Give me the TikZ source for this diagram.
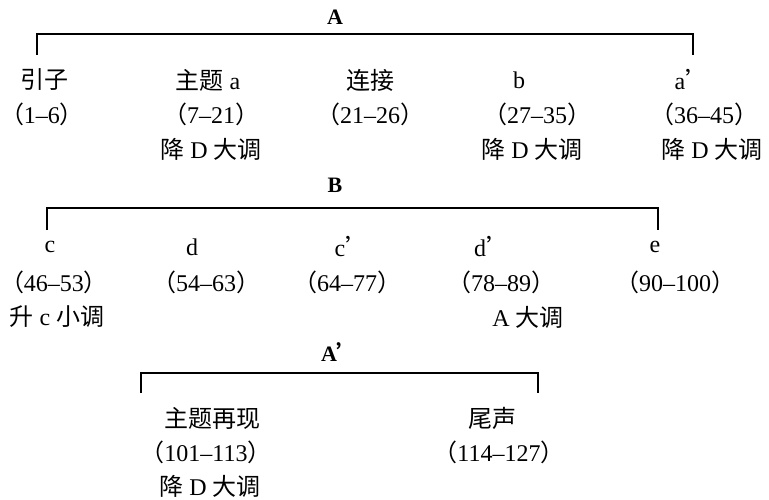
\documentclass[tikz,border=0pt]{standalone}
\usepackage{fontspec}
\setmainfont{Liberation Serif}
\newfontfamily\cjk{Noto Sans CJK SC}
\newcommand\rng[1]{{\cjk （}#1{\cjk ）}}
\begin{document}
\begin{tikzpicture}[x=1pt,y=-1pt,
  lbl/.style={inner sep=0pt, anchor=center, font=\fontsize{24}{28}\selectfont},
  ttl/.style={inner sep=0pt, anchor=center, font=\fontsize{22}{26}\selectfont\bfseries},
  bracket/.style={line width=1.8pt}]
\useasboundingbox (0,0) rectangle (769,500);
% ---- A section
\node[ttl] (tA) at (335,17) {A};
\coordinate (a1) at (37,55); \coordinate (a2) at (37,34);
\coordinate (a3) at (693,34); \coordinate (a4) at (693,55);
\draw[bracket] (a1) -- (a2) -- (a3) -- (a4);
\node[lbl] (n1) at (44,80) {\cjk 引子};
\node[lbl] (n2) at (208,80) {{\cjk 主题} a};
\node[lbl] (n3) at (370,80) {\cjk 连接};
\node[lbl] (n4) at (519,80) {b};
\node[lbl] (n5) at (692,80) {a{\cjk ’}};
\node[lbl] (r1) at (42,114) {\rng{1--6}};
\node[lbl] (r2) at (211,114) {\rng{7--21}};
\node[lbl] (r3) at (370,114) {\rng{21--26}};
\node[lbl] (r4) at (537,114) {\rng{27--35}};
\node[lbl] (r5) at (704,114) {\rng{36--45}};
\node[lbl] (k2) at (211,149) {{\cjk 降} D {\cjk 大调}};
\node[lbl] (k4) at (532,149) {{\cjk 降} D {\cjk 大调}};
\node[lbl] (k5) at (712,149) {{\cjk 降} D {\cjk 大调}};
% ---- B section
\node[ttl] (tB) at (335,185) {B};
\coordinate (b1) at (47,230); \coordinate (b2) at (47,208);
\coordinate (b3) at (658,208); \coordinate (b4) at (658,230);
\draw[bracket] (b1) -- (b2) -- (b3) -- (b4);
\node[lbl] (m1) at (50,247) {c};
\node[lbl] (m2) at (192,247) {d};
\node[lbl] (m3) at (352,247) {c{\cjk ’}};
\node[lbl] (m4) at (492,247) {d{\cjk ’}};
\node[lbl] (m5) at (655,247) {e};
\node[lbl] (s1) at (54,282) {\rng{46--53}};
\node[lbl] (s2) at (206,282) {\rng{54--63}};
\node[lbl] (s3) at (347,282) {\rng{64--77}};
\node[lbl] (s4) at (501,282) {\rng{78--89}};
\node[lbl] (s5) at (675,282) {\rng{90--100}};
\node[lbl] (j1) at (57,317) {{\cjk 升} c {\cjk 小调}};
\node[lbl] (j4) at (528,317) {A {\cjk 大调}};
% ---- A' section
\node[ttl] (tC) at (340,352) {A{\cjk ’}};
\coordinate (c1) at (141,393); \coordinate (c2) at (141,373);
\coordinate (c3) at (538,373); \coordinate (c4) at (538,393);
\draw[bracket] (c1) -- (c2) -- (c3) -- (c4);
\node[lbl] (p1) at (212,418) {\cjk 主题再现};
\node[lbl] (p2) at (492,418) {\cjk 尾声};
\node[lbl] (q1) at (206,452) {\rng{101--113}};
\node[lbl] (q2) at (499,452) {\rng{114--127}};
\node[lbl] (h1) at (210,486) {{\cjk 降} D {\cjk 大调}};
\end{tikzpicture}
\end{document}
